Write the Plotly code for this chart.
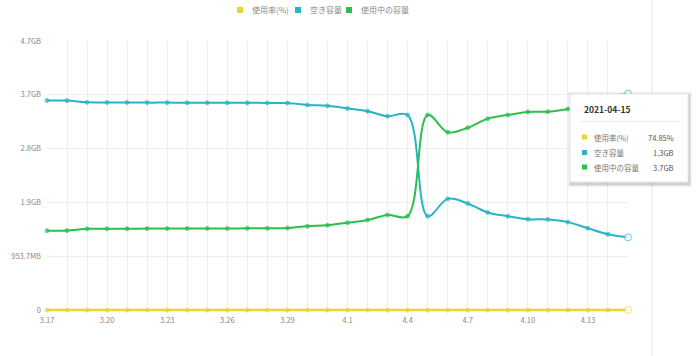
import plotly.graph_objects as go

# ---- data ----
days = ["3.17", "3.18", "3.19", "3.20", "3.21", "3.22", "3.23", "3.24", "3.25", "3.26",
        "3.27", "3.28", "3.29", "3.30", "3.31", "4.1", "4.2", "4.3", "4.4", "4.5",
        "4.6", "4.7", "4.8", "4.9", "4.10", "4.11", "4.12", "4.13", "4.14", "4.15"]
shown_ticks = ["3.17", "3.20", "3.23", "3.26", "3.29", "4.1", "4.4", "4.7", "4.10", "4.13"]

# GiB
used_gib = [1.373, 1.375, 1.405, 1.407, 1.407, 1.410, 1.410, 1.412, 1.412, 1.412,
            1.414, 1.415, 1.418, 1.450, 1.466, 1.511, 1.558, 1.645, 1.625, 3.376,
            3.076, 3.156, 3.312, 3.376, 3.428, 3.433, 3.479, 3.586, 3.690, 3.7425]
free_gib = [3.627, 3.625, 3.595, 3.593, 3.593, 3.590, 3.590, 3.588, 3.588, 3.588,
            3.586, 3.585, 3.582, 3.550, 3.534, 3.489, 3.442, 3.355, 3.375, 1.624,
            1.924, 1.844, 1.688, 1.624, 1.572, 1.567, 1.521, 1.414, 1.310, 1.2575]
rate_pct = [27.46, 27.50, 28.10, 28.14, 28.14, 28.20, 28.20, 28.24, 28.24, 28.24,
            28.28, 28.30, 28.36, 29.00, 29.32, 30.22, 31.16, 32.90, 32.50, 67.52,
            61.52, 63.12, 66.24, 67.52, 68.56, 68.66, 69.58, 71.72, 73.80, 74.85]

y_tickvals = [0, 1e9, 2e9, 3e9, 4e9, 5e9]
y_ticktext = ["0", "953.7MB", "1.9GB", "2.8GB", "3.7GB", "4.7GB"]

series_names = ["使用率(%)", "空き容量", "使用中の容量"]
colors = ["#e8d530", "#26b4c6", "#2dbf4e"]

tip_date = "2021-04-15"
tip_values = ["74.85%", "1.3GB", "3.7GB"]

GIB = 1024 ** 3
x = list(range(len(days)))
used_b = [v * GIB for v in used_gib]
free_b = [v * GIB for v in free_gib]

W, H = 700, 356
L, R, T, B = 47, 628, 41, 310
PAD = 3  # px of room below zero so the baseline series isn't clipped
Y_MAX = 5e9
Y_MIN = -Y_MAX * PAD / (B - T)


def px(xp):
    return (xp - L) / (R - L)


def py(yp):
    return (B + PAD - yp) / (B + PAD - T)


fig = go.Figure()
n = len(days)
sizes = [4] * (n - 1) + [7]
widths = [2.5, 2, 2]
for name, ys, col, lw in zip(series_names, [rate_pct, free_b, used_b], colors, widths):
    fills = [col] * (n - 1) + ["white"]
    fig.add_trace(go.Scatter(
        x=x, y=ys, name=name, mode="lines+markers",
        line=dict(color=col, width=lw, shape="spline", smoothing=1.0),
        marker=dict(size=sizes, color=fills, line=dict(color=col, width=1)),
        showlegend=False, cliponaxis=False,
    ))

tickvals_x = x
ticktext_x = [d if d in shown_ticks else "" for d in days]

font = "Noto Sans CJK JP, Noto Sans, sans-serif"
fig.update_layout(
    width=W, height=H,
    margin=dict(l=L, r=W - R, t=T, b=H - B - PAD),
    plot_bgcolor="white", paper_bgcolor="white",
    font=dict(family=font, size=8, color="#888"),
    xaxis=dict(range=[0, n - 1], tickmode="array", tickvals=tickvals_x, ticktext=ticktext_x,
               showgrid=True, gridcolor="#eeeeee", gridwidth=1, zeroline=False,
               showline=False, ticks="", tickfont=dict(size=7.5, color="#888"), ticklabelstandoff=1),
    yaxis=dict(range=[Y_MIN, Y_MAX], tickmode="array", tickvals=y_tickvals, ticktext=y_ticktext,
               showgrid=True, gridcolor="#eeeeee", gridwidth=1, zeroline=False,
               showline=False, ticks="", tickfont=dict(size=7.5, color="#888"), ticklabelstandoff=5),
    showlegend=False,
)

shapes = []
annotations = []

# page right border line
shapes.append(dict(type="line", xref="paper", yref="paper", x0=px(652), x1=px(652),
                   y0=py(H), y1=py(0), line=dict(color="#eeeeee", width=1.5), layer="below"))

# manual legend
leg_sq = [240, 298, 349]
for xs, name, col in zip(leg_sq, series_names, colors):
    shapes.append(dict(type="rect", xref="paper", yref="paper", x0=px(xs - 3), x1=px(xs + 3),
                       y0=py(13), y1=py(7), fillcolor=col, line=dict(width=0)))
    annotations.append(dict(xref="paper", yref="paper", x=px(xs + 10), y=py(10), text=name,
                            showarrow=False, xanchor="left", yanchor="middle",
                            font=dict(size=8, color="#888", family=font)))

# tooltip box with soft shadow
bx0, bx1, by0, by1 = 570, 688, 94, 182
for i, op in enumerate([0.05, 0.06, 0.08]):
    d = 3 - i
    shapes.append(dict(type="rect", xref="paper", yref="paper",
                       x0=px(bx0 - d + 1), x1=px(bx1 + d + 1), y0=py(by1 + d + 2), y1=py(by0 - d + 1),
                       fillcolor="rgba(0,0,0,%s)" % op, line=dict(width=0), layer="above"))
shapes.append(dict(type="rect", xref="paper", yref="paper", x0=px(bx0), x1=px(bx1),
                   y0=py(by1), y1=py(by0), fillcolor="white",
                   line=dict(color="#e6e6e6", width=1), layer="above"))
shapes.append(dict(type="line", xref="paper", yref="paper", x0=px(bx0 + 10), x1=px(bx1 - 8),
                   y0=py(121.5), y1=py(121.5), line=dict(color="#eeeeee", width=1), layer="above"))
annotations.append(dict(xref="paper", yref="paper", x=px(582), y=py(108.5), text="<b>%s</b>" % tip_date,
                        showarrow=False, xanchor="left", yanchor="middle",
                        font=dict(size=8.5, color="#333", family=font)))
rows_y = [137, 152.5, 167]
for ry, name, col, val in zip(rows_y, series_names, colors, tip_values):
    shapes.append(dict(type="rect", xref="paper", yref="paper", x0=px(582), x1=px(587),
                       y0=py(ry + 2.5), y1=py(ry - 2.5), fillcolor=col, line=dict(width=0), layer="above"))
    annotations.append(dict(xref="paper", yref="paper", x=px(592), y=py(ry), text=name,
                            showarrow=False, xanchor="left", yanchor="middle",
                            font=dict(size=7.5, color="#777", family=font)))
    annotations.append(dict(xref="paper", yref="paper", x=px(676), y=py(ry), text=val,
                            showarrow=False, xanchor="right", yanchor="middle",
                            font=dict(size=7.5, color="#555", family=font)))

fig.update_layout(shapes=shapes, annotations=annotations)
fig.write_html("out.html", config={"displayModeBar": False},
               post_script="document.body.style.margin='0';")
